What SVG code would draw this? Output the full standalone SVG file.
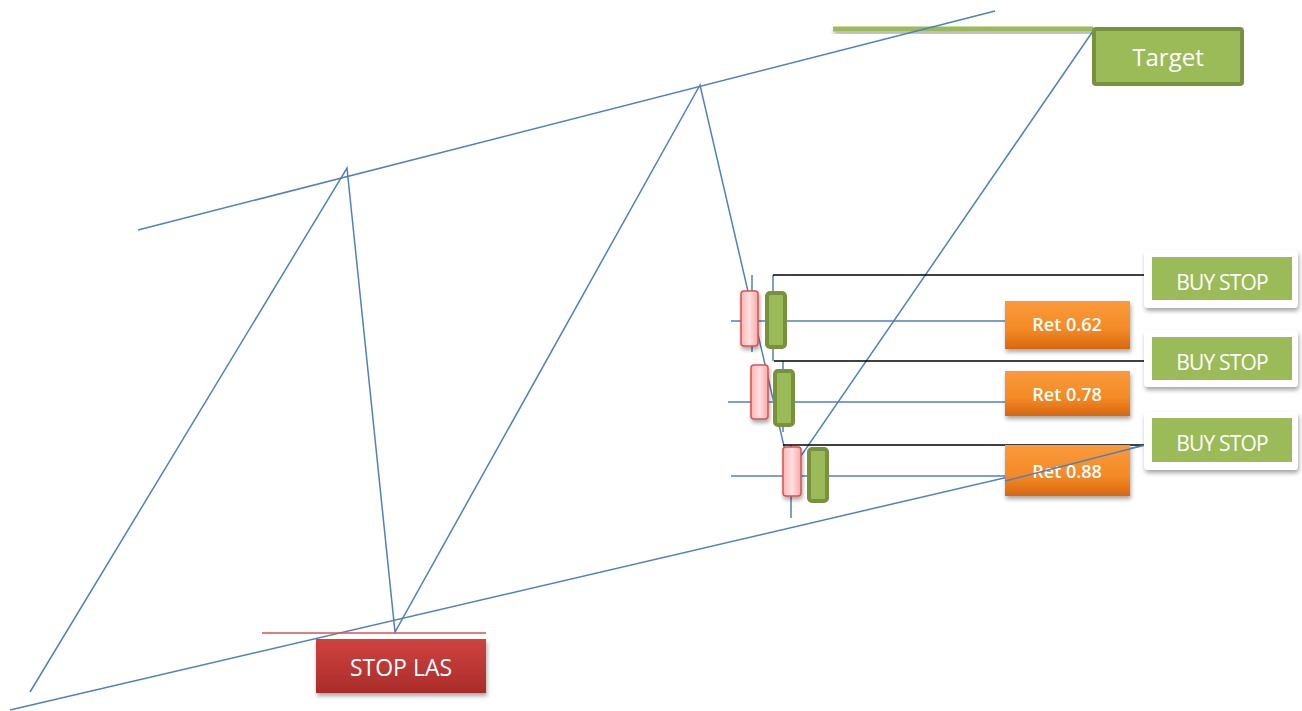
<svg xmlns="http://www.w3.org/2000/svg" width="1302" height="711" viewBox="0 0 1302 711">
<defs>
<style>
.ln{stroke:#4f81bd;stroke-width:1.5;fill:none}
.bk{stroke:#000;stroke-width:1.5;fill:none}
.rc{fill:url(#pink);stroke:#d9534f;stroke-width:1.5}
.gc{fill:#9bbb59;stroke:#76923c;stroke-width:4}
.t{font-family:"Open Sans","Liberation Sans",sans-serif;fill:#fff;text-anchor:middle}
.r{font-size:18px;font-weight:600}
.b{font-size:21px;letter-spacing:-0.8px}
</style>
<linearGradient id="pink" x1="0" y1="0" x2="1" y2="0"><stop offset="0" stop-color="#f7b4b4"/><stop offset="0.5" stop-color="#ffe0e0"/><stop offset="1" stop-color="#f4a9a9"/></linearGradient>
<linearGradient id="org" x1="0" y1="0" x2="0" y2="1"><stop offset="0" stop-color="#fb9a3c"/><stop offset="0.6" stop-color="#f38a26"/><stop offset="1" stop-color="#d8670f"/></linearGradient>
<linearGradient id="red" x1="0" y1="0" x2="0" y2="1"><stop offset="0" stop-color="#cf4340"/><stop offset="1" stop-color="#a92c2a"/></linearGradient>
<filter id="sh" x="-10%" y="-20%" width="130%" height="160%"><feDropShadow dx="1" dy="3" stdDeviation="2" flood-color="#000" flood-opacity="0.35"/></filter>
</defs>
<g id="connectors">
<rect x="833" y="26.5" width="260" height="5" fill="#9bbb59" filter="url(#sh)"/>
<line class="ln" x1="138" y1="230" x2="995" y2="11"/>
<line class="ln" x1="10" y1="710" x2="1145" y2="445"/>
<polyline class="ln" points="30,692 347,168 395,632 700,85 790,472 1093,31"/>
<line x1="262" y1="633" x2="486" y2="633" stroke="#e05050" stroke-width="1.5"/>
<line class="ln" x1="731" y1="321" x2="1005" y2="321"/>
<line class="ln" x1="728" y1="402" x2="1005" y2="402"/>
<line class="ln" x1="731" y1="476" x2="1005" y2="476"/>
<line class="ln" x1="752" y1="275" x2="752" y2="352"/>
<line class="ln" x1="773" y1="275" x2="773" y2="361"/>
<line class="ln" x1="783" y1="361" x2="783" y2="432"/>
<line class="ln" x1="791" y1="445" x2="791" y2="518"/>
<polyline class="bk" points="773,275 1152,275"/>
<polyline class="bk" points="774,361 1145,361"/>
<polyline class="bk" points="783,445 1145,445"/>
</g>
<g id="candles">
<rect class="rc" x="741" y="291" width="17" height="55" rx="3" filter="url(#sh)"/>
<rect class="gc" x="767" y="293" width="18" height="54" rx="3"/>
<rect class="rc" x="751" y="365" width="17" height="54" rx="3" filter="url(#sh)"/>
<rect class="gc" x="775" y="371" width="18" height="54" rx="3"/>
<rect class="rc" x="783" y="447" width="18" height="49" rx="3" filter="url(#sh)"/>
<rect class="gc" x="809" y="449" width="18" height="52" rx="3"/>
</g>
<g id="target">
<rect x="1094" y="29" width="148" height="55" fill="#9bbb59" stroke="#76923c" stroke-width="4" rx="2"/>
<text class="t" x="1168" y="66" font-size="24">Target</text>
</g>
<g id="stoplas">
<rect x="316" y="639" width="170" height="54" fill="url(#red)" filter="url(#sh)"/>
<text class="t" x="401" y="676" font-size="23">STOP LAS</text>
</g>
<g id="ret062">
<rect x="1005" y="301" width="125" height="48" fill="url(#org)" filter="url(#sh)"/>
<text class="t r" x="1067" y="331">Ret 0.62</text>
</g>
<g id="ret078">
<rect x="1005" y="371" width="125" height="45" fill="url(#org)" filter="url(#sh)"/>
<text class="t r" x="1067" y="401">Ret 0.78</text>
</g>
<g id="ret088">
<rect x="1005" y="445" width="125" height="51" fill="url(#org)" filter="url(#sh)"/>
<text class="t r" x="1067" y="478">Ret 0.88</text>
</g>
<line class="ln" x1="1005" y1="481" x2="1145" y2="445"/>
<g id="buystop1">
<rect x="1144" y="250" width="154" height="58" rx="4" fill="#fff" filter="url(#sh)"/>
<rect x="1152" y="257" width="140" height="43" fill="#9bbb59"/>
<text class="t b" x="1222" y="290">BUY STOP</text>
</g>
<g id="buystop2">
<rect x="1144" y="330" width="154" height="57" rx="4" fill="#fff" filter="url(#sh)"/>
<rect x="1152" y="337" width="140" height="43" fill="#9bbb59"/>
<text class="t b" x="1222" y="370">BUY STOP</text>
</g>
<g id="buystop3">
<rect x="1144" y="412" width="154" height="58" rx="4" fill="#fff" filter="url(#sh)"/>
<rect x="1152" y="418" width="140" height="44" fill="#9bbb59"/>
<text class="t b" x="1222" y="451">BUY STOP</text>
</g>
</svg>
